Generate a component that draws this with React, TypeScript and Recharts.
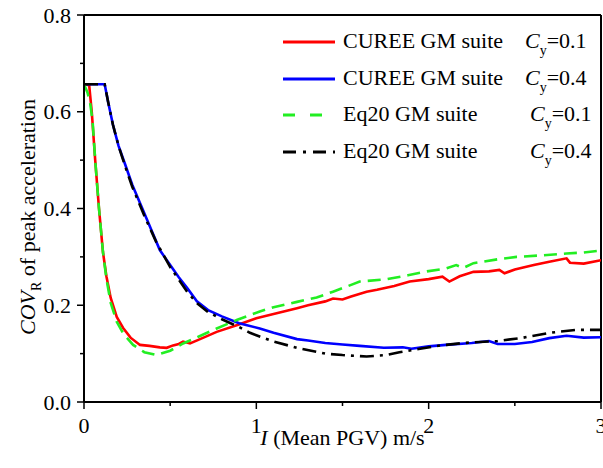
import React from "react";
import { LineChart, Line, XAxis, YAxis, Legend, ReferenceLine } from "recharts";

const FONT = "Liberation Serif";
const FS = 22;

// tick values
const xTicks = [0, 0.5, 1, 1.5, 2, 2.5, 3];
const yTicks = [0, 0.1, 0.2, 0.3, 0.4, 0.5, 0.6, 0.7, 0.8];

// [I (m/s), COV_R]
const cureeLow: [number, number][] = [
  [0, 0.657], [0.03, 0.655], [0.045, 0.6], [0.065, 0.5], [0.087, 0.4],
  [0.11, 0.31], [0.13, 0.26], [0.155, 0.215], [0.19, 0.176], [0.227, 0.153],
  [0.27, 0.133], [0.325, 0.118], [0.38, 0.116], [0.44, 0.113], [0.48, 0.112],
  [0.517, 0.117], [0.55, 0.12], [0.575, 0.125], [0.615, 0.121], [0.66, 0.128],
  [0.77, 0.145], [0.89, 0.159], [1.0, 0.173], [1.1, 0.182], [1.236, 0.194],
  [1.3, 0.2], [1.4, 0.208], [1.445, 0.214], [1.5, 0.212], [1.55, 0.218],
  [1.64, 0.228], [1.7, 0.232], [1.8, 0.24], [1.89, 0.249], [2.0, 0.254],
  [2.08, 0.259], [2.12, 0.249], [2.18, 0.26], [2.26, 0.269], [2.35, 0.27],
  [2.41, 0.273], [2.44, 0.266], [2.5, 0.274], [2.61, 0.283], [2.7, 0.29],
  [2.8, 0.297], [2.82, 0.288], [2.9, 0.286], [3.0, 0.293],
];

const cureeHigh: [number, number][] = [
  [0, 0.657], [0.12, 0.657], [0.14, 0.62], [0.168, 0.573], [0.2, 0.53],
  [0.24, 0.49], [0.28, 0.449], [0.35, 0.39], [0.44, 0.314], [0.5, 0.283],
  [0.55, 0.258], [0.6, 0.235], [0.655, 0.208], [0.72, 0.19], [0.8, 0.177],
  [0.9, 0.163], [1.02, 0.152], [1.1, 0.143], [1.236, 0.13], [1.3, 0.127],
  [1.4, 0.122], [1.5, 0.119], [1.6, 0.116], [1.74, 0.112], [1.85, 0.113],
  [1.9, 0.11], [2.0, 0.115], [2.1, 0.118], [2.25, 0.122], [2.35, 0.126],
  [2.4, 0.12], [2.5, 0.12], [2.6, 0.124], [2.7, 0.132], [2.8, 0.137],
  [2.9, 0.133], [3.0, 0.134],
];

const eqLow: [number, number][] = [
  [0, 0.657], [0.02, 0.64], [0.035, 0.62], [0.05, 0.58], [0.065, 0.5],
  [0.087, 0.4], [0.11, 0.31], [0.13, 0.255], [0.155, 0.205], [0.19, 0.166],
  [0.23, 0.14], [0.285, 0.118], [0.35, 0.103], [0.42, 0.097], [0.5, 0.106],
  [0.575, 0.121], [0.67, 0.136], [0.77, 0.152], [0.89, 0.17], [1.02, 0.187],
  [1.1, 0.196], [1.236, 0.207], [1.35, 0.216], [1.445, 0.228], [1.52, 0.238],
  [1.6, 0.249], [1.76, 0.254], [1.88, 0.262], [1.99, 0.27], [2.1, 0.276],
  [2.16, 0.283], [2.2, 0.277], [2.26, 0.287], [2.4, 0.295], [2.51, 0.3],
  [2.65, 0.303], [2.8, 0.307], [2.9, 0.309], [3.0, 0.313],
];

const eqHigh: [number, number][] = [
  [0, 0.657], [0.12, 0.657], [0.14, 0.62], [0.168, 0.573], [0.2, 0.53],
  [0.24, 0.486], [0.28, 0.445], [0.35, 0.385], [0.42, 0.33], [0.5, 0.279],
  [0.6, 0.227], [0.66, 0.203], [0.72, 0.186], [0.8, 0.171], [0.9, 0.155],
  [0.963, 0.143], [1.0, 0.138], [1.1, 0.125], [1.236, 0.112], [1.4, 0.1],
  [1.5, 0.097], [1.64, 0.094], [1.75, 0.097], [1.83, 0.103], [1.95, 0.11],
  [2.07, 0.117], [2.2, 0.122], [2.4, 0.126], [2.55, 0.133], [2.7, 0.143],
  [2.85, 0.149], [3.0, 0.149],
];

const toPoints = (arr: [number, number][]) => arr.map(([x, y]) => ({ x, y }));

const series = [
  { key: "cl", suite: "CUREE GM suite", cy: "0.1", data: cureeLow, color: "#ff0000", dash: undefined, cyLeft: 182 },
  { key: "ch", suite: "CUREE GM suite", cy: "0.4", data: cureeHigh, color: "#0000ff", dash: undefined, cyLeft: 182 },
  { key: "el", suite: "Eq20 GM suite", cy: "0.1", data: eqLow, color: "#22ee22", dash: "13 7", cyLeft: 187 },
  { key: "eh", suite: "Eq20 GM suite", cy: "0.4", data: eqHigh, color: "#000000", dash: "14 6 3 6", cyLeft: 187 },
];

const legendDash: Record<string, string | undefined> = {
  cl: undefined,
  ch: undefined,
  el: "12 15",
  eh: "13 7 3 7",
};

const XTick = (props: any) => {
  const { x, y, payload } = props;
  const major = Number.isInteger(payload.value);
  return (
    <g>
      <line x1={x} x2={x} y1={y} y2={y + (major ? 7 : 4)} stroke="#000" strokeWidth={1.5} />
      {major && (
        <text x={x} y={y + 31} textAnchor="middle" fontSize={FS} fontFamily={FONT} fill="#000">
          {payload.value}
        </text>
      )}
    </g>
  );
};

const YTick = (props: any) => {
  const { x, y, payload } = props;
  const major = Math.round(payload.value * 10) % 2 === 0;
  return (
    <g>
      <line x1={x} x2={x - (major ? 7 : 4)} y1={y} y2={y} stroke="#000" strokeWidth={1.5} />
      {major && (
        <text x={x - 13} y={y + 7.5} textAnchor="end" fontSize={FS} fontFamily={FONT} fill="#000">
          {payload.value.toFixed(1)}
        </text>
      )}
    </g>
  );
};

const XLabel = (props: any) => {
  const vb = props.viewBox || { x: 84, y: 402, width: 517 };
  return (
    <text x={vb.x + vb.width / 2} y={vb.y + 43} textAnchor="middle" fontSize={FS} fontFamily={FONT} fill="#000">
      <tspan fontStyle="italic">I</tspan>
      <tspan> (Mean PGV) m/s</tspan>
    </text>
  );
};

const YLabel = () => {
  const cx = 35;
  const cy = 217;
  return (
    <text transform={`rotate(-90, ${cx}, ${cy})`} x={cx} y={cy} textAnchor="middle" fontSize={FS} fontFamily={FONT} fill="#000">
      <tspan fontStyle="italic">COV</tspan>
      <tspan fontSize={14} dy={6}>R</tspan>
      <tspan dy={-6}> of peak acceleration</tspan>
    </text>
  );
};

const renderLegend = () => (
  <div style={{ fontFamily: FONT, fontSize: FS, color: "#000", position: "relative", width: 320 }}>
    {series.map((s) => (
      <div key={s.key} style={{ position: "relative", height: 36.5 }}>
        <svg width={54} height={10} style={{ position: "absolute", left: 3, top: 13 }}>
          <line x1={0} x2={52} y1={5} y2={5} stroke={s.color} strokeWidth={3} strokeDasharray={legendDash[s.key]} />
        </svg>
        <span style={{ position: "absolute", left: 63, top: 2, whiteSpace: "nowrap", lineHeight: "30px" }}>
          {s.suite}
        </span>
        <span style={{ position: "absolute", left: 63 + s.cyLeft, top: 2, whiteSpace: "nowrap", lineHeight: "30px" }}>
          <i>C</i>
          <span style={{ fontSize: 14, position: "relative", top: 7 }}>y</span>=
          {s.cy}
        </span>
      </div>
    ))}
  </div>
);

const App = () => {
  return (
    <div style={{ position: "absolute", left: 0, top: 0, background: "#fff", fontFamily: FONT }}>
      <LineChart width={603} height={468} margin={{ top: 15, right: 2, left: 0, bottom: 0 }}>
        <XAxis
          type="number"
          dataKey="x"
          domain={[0, 3]}
          ticks={xTicks}
          tickSize={0}
          tickMargin={0}
          tickLine={false}
          tick={<XTick />}
          interval={0}
          height={66}
          axisLine={{ stroke: "#000", strokeWidth: 2 }}
          label={<XLabel />}
          allowDataOverflow
        />
        <YAxis
          type="number"
          dataKey="y"
          domain={[0, 0.8]}
          ticks={yTicks}
          tickSize={0}
          tickMargin={0}
          tickLine={false}
          tick={<YTick />}
          interval={0}
          width={84}
          axisLine={{ stroke: "#000", strokeWidth: 2 }}
          label={<YLabel />}
          allowDataOverflow
        />
        <ReferenceLine y={0.8} stroke="#000" strokeWidth={2} />
        <ReferenceLine x={3} stroke="#000" strokeWidth={2} />
        {series.map((s) => (
          <Line
            key={s.key}
            data={toPoints(s.data)}
            dataKey="y"
            type="linear"
            stroke={s.color}
            strokeWidth={2.6}
            strokeDasharray={s.dash}
            dot={false}
            isAnimationActive={false}
          />
        ))}
        <Legend
          layout="vertical"
          align="center"
          verticalAlign="middle"
          content={renderLegend}
          wrapperStyle={{ position: "absolute", left: 280, top: 24, width: 320 }}
        />
      </LineChart>
    </div>
  );
};

export default App;
